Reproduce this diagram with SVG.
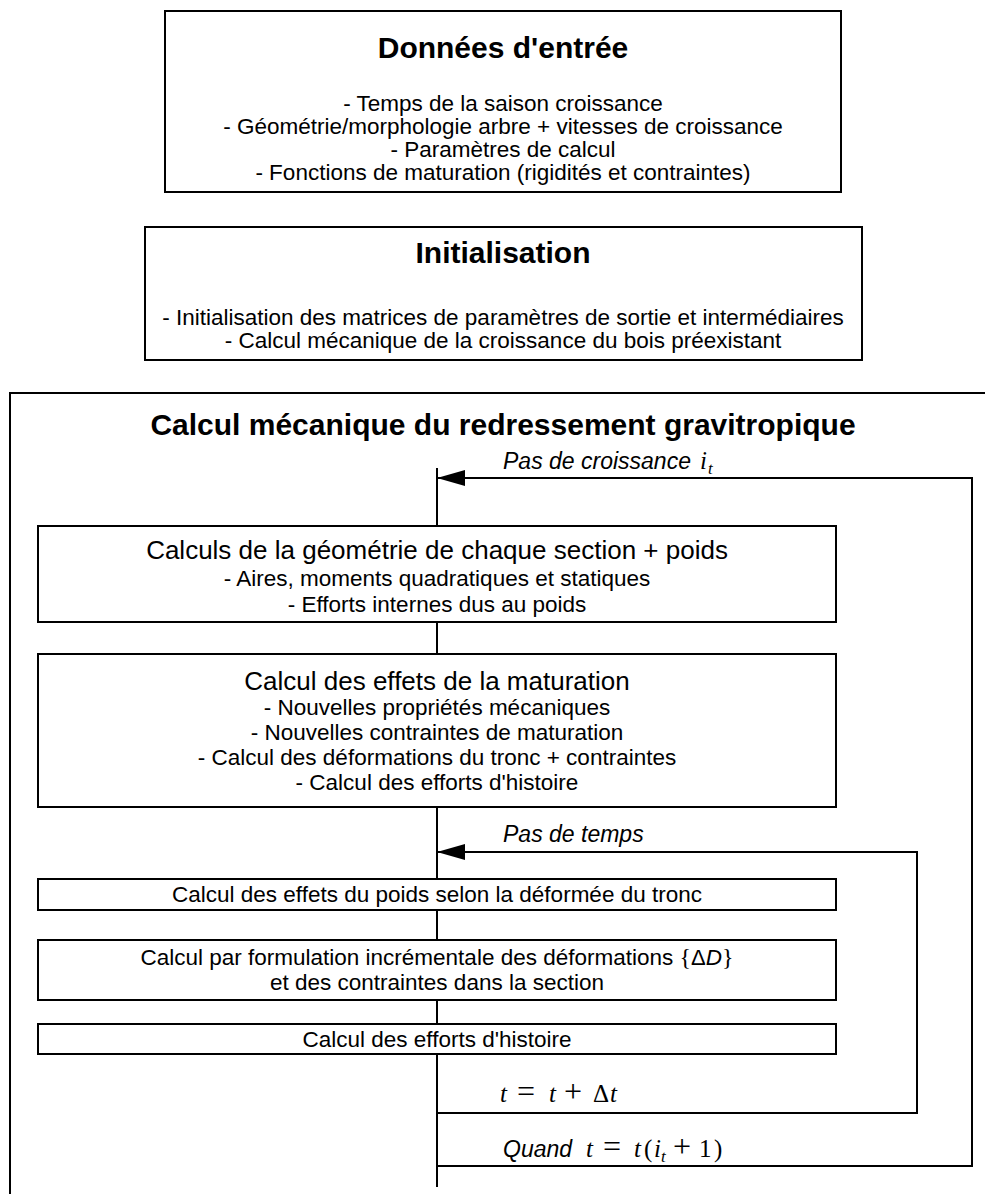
<svg xmlns="http://www.w3.org/2000/svg" width="985" height="1194" viewBox="0 0 985 1194">
<style>
text{font-family:"Liberation Sans",Arial,sans-serif;fill:#000;text-anchor:middle}
.box{fill:#fff;stroke:#000;stroke-width:2}
.ttl{font-size:30px;font-weight:bold}
.ln{font-size:22.5px}
.sub{font-size:26px}
.lbl{font-size:23px;font-style:italic;text-anchor:start}
.m{font-family:"Liberation Serif","DejaVu Serif",serif;font-size:25px;font-style:normal;text-anchor:start}
.mi{font-style:italic}
.ms{font-size:17px}
.op{font-size:32px}
.wire{fill:none;stroke:#000;stroke-width:2}
</style>
<defs>
<marker id="ah" markerWidth="28" markerHeight="16" refX="28" refY="8" orient="auto" markerUnits="userSpaceOnUse" viewBox="0 0 28 16">
<path d="M0,0 L28,8 L0,16 z" fill="#000"/>
</marker>
</defs>
<g id="input">
<rect class="box" x="165" y="11" width="676" height="181"/>
<text class="ttl" x="503" y="58">Données d'entrée</text>
<text class="ln" x="503" y="111">- Temps de la saison croissance</text>
<text class="ln" x="503" y="134">- Géométrie/morphologie arbre + vitesses de croissance</text>
<text class="ln" x="503" y="157">- Paramètres de calcul</text>
<text class="ln" x="503" y="180">- Fonctions de maturation (rigidités et contraintes)</text>
</g>
<g id="init">
<rect class="box" x="145" y="227" width="717" height="133"/>
<text class="ttl" x="503" y="263">Initialisation</text>
<text class="ln" x="503" y="325">- Initialisation des matrices de paramètres de sortie et intermédiaires</text>
<text class="ln" x="503" y="348">- Calcul mécanique de la croissance du bois préexistant</text>
</g>
<g id="frame">
<path class="wire" d="M10,1194 V393 H985"/>
<text class="ttl" x="503" y="435">Calcul mécanique du redressement gravitropique</text>
</g>
<g id="connectors">
<path class="wire" d="M437,468 V1187"/>
<path class="wire" d="M437,1166 H972 V478 H437" marker-end="url(#ah)"/>
<path class="wire" d="M437,1113 H917 V852 H437" marker-end="url(#ah)"/>
<text class="lbl" x="503" y="469">Pas de croissance<tspan class="m mi" x="700" font-size="27">i</tspan><tspan class="m mi ms" x="708" dy="5">t</tspan></text>
<text class="lbl" x="503" y="842">Pas de temps</text>
<text class="m" x="500" y="1102"><tspan class="mi">t</tspan><tspan class="op" x="517">=</tspan><tspan class="mi" x="549">t</tspan><tspan class="op" x="564">+</tspan><tspan x="593">Δ</tspan><tspan class="mi" x="610">t</tspan></text>
<text class="lbl" x="503" y="1157">Quand<tspan class="m mi" x="586">t</tspan><tspan class="m op" x="603">=</tspan><tspan class="m mi" x="634">t</tspan><tspan class="m" x="644">(</tspan><tspan class="m mi" x="654">i</tspan><tspan class="m mi ms" x="661" dy="5">t</tspan><tspan class="m op" x="673" dy="-5">+</tspan><tspan class="m" x="699">1</tspan><tspan class="m" x="714">)</tspan></text>
</g>
<g id="geom">
<rect class="box" x="38" y="526" width="798" height="96"/>
<text class="sub" x="437" y="559">Calculs de la géométrie de chaque section + poids</text>
<text class="ln" x="437" y="586">- Aires, moments quadratiques et statiques</text>
<text class="ln" x="437" y="612">- Efforts internes dus au poids</text>
</g>
<g id="maturation">
<rect class="box" x="38" y="654" width="798" height="153"/>
<text class="sub" x="437" y="690">Calcul des effets de la maturation</text>
<text class="ln" x="437" y="715">- Nouvelles propriétés mécaniques</text>
<text class="ln" x="437" y="740">- Nouvelles contraintes de maturation</text>
<text class="ln" x="437" y="765">- Calcul des déformations du tronc + contraintes</text>
<text class="ln" x="437" y="790">- Calcul des efforts d'histoire</text>
</g>
<g id="poids">
<rect class="box" x="38" y="879" width="798" height="31"/>
<text class="ln" x="437" y="902">Calcul des effets du poids selon la déformée du tronc</text>
</g>
<g id="increment">
<rect class="box" x="38" y="940" width="798" height="60"/>
<text class="ln" x="437" y="965">Calcul par formulation incrémentale des déformations <tspan font-family="'Liberation Serif',serif" font-size="24">{</tspan><tspan font-size="22">Δ</tspan><tspan font-style="italic">D</tspan><tspan font-family="'Liberation Serif',serif" font-size="24">}</tspan></text>
<text class="ln" x="437" y="990">et des contraintes dans la section</text>
</g>
<g id="histoire">
<rect class="box" x="38" y="1024" width="798" height="30"/>
<text class="ln" x="437" y="1047">Calcul des efforts d'histoire</text>
</g>
</svg>
